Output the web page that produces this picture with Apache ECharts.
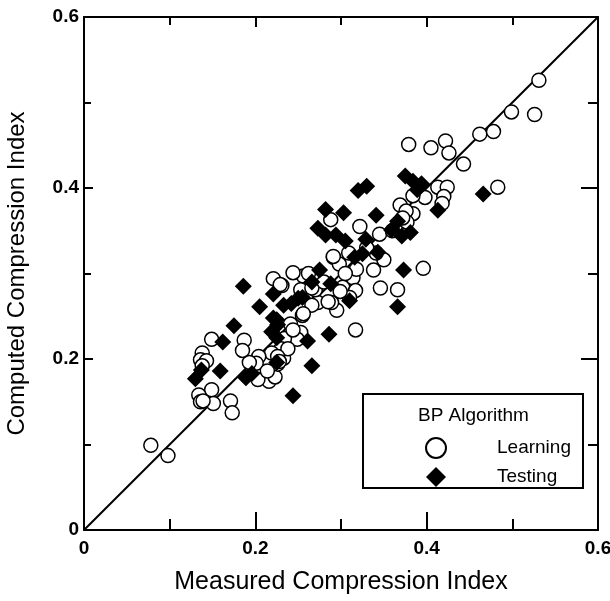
<!DOCTYPE html>
<html>
<head>
<meta charset="utf-8">
<script src="https://cdn.jsdelivr.net/npm/echarts@6/dist/echarts.min.js"></script>
<style>
  html, body { margin: 0; padding: 0; background: #fff; }
  #chart { width: 610px; height: 601px; }
</style>
</head>
<body>
<div id="chart"></div>
<script>
// Measured vs computed compression index, BP network results
const axisTicks = [0, 0.2, 0.4, 0.6];

const learningPoints = [
  [0.078,0.099],[0.098,0.087],[0.531,0.526],[0.499,0.489],[0.526,0.486],[0.462,0.463],
  [0.478,0.466],[0.379,0.451],[0.405,0.447],[0.422,0.455],[0.426,0.441],[0.443,0.428],
  [0.483,0.401],[0.413,0.401],[0.424,0.401],[0.420,0.390],[0.418,0.382],[0.398,0.389],
  [0.384,0.391],[0.384,0.370],[0.396,0.306],[0.366,0.281],[0.346,0.283],[0.338,0.304],
  [0.345,0.346],[0.322,0.355],[0.288,0.363],[0.350,0.316],[0.341,0.324],[0.317,0.234],
  [0.291,0.319],[0.298,0.311],[0.302,0.284],[0.295,0.257],[0.289,0.266],[0.314,0.295],
  [0.317,0.280],[0.310,0.272],[0.273,0.266],[0.270,0.281],[0.256,0.297],[0.244,0.301],
  [0.221,0.294],[0.231,0.286],[0.253,0.281],[0.255,0.251],[0.266,0.263],[0.253,0.231],
  [0.249,0.223],[0.241,0.241],[0.234,0.224],[0.230,0.212],[0.219,0.207],[0.233,0.201],
  [0.216,0.174],[0.203,0.176],[0.204,0.203],[0.201,0.195],[0.193,0.196],[0.187,0.222],
  [0.185,0.210],[0.171,0.151],[0.173,0.137],[0.149,0.164],[0.134,0.158],[0.136,0.150],
  [0.151,0.148],[0.139,0.151],[0.149,0.223],[0.138,0.207],[0.136,0.199],[0.143,0.198],
  [0.138,0.192],[0.223,0.179],[0.226,0.194],[0.238,0.212],[0.369,0.380],[0.376,0.373],
  [0.377,0.360],[0.291,0.320],[0.309,0.324],[0.229,0.287],[0.266,0.283],[0.299,0.279],
  [0.256,0.253],[0.244,0.234],[0.285,0.267],[0.262,0.300],[0.330,0.330],[0.318,0.305],
  [0.305,0.300],[0.360,0.350],[0.372,0.365],[0.280,0.290],[0.214,0.186],[0.226,0.203],
  [0.228,0.197]
];

const testingPoints = [
  [0.130,0.177],[0.137,0.187],[0.159,0.186],[0.162,0.220],[0.175,0.239],[0.186,0.285],
  [0.189,0.178],[0.196,0.183],[0.205,0.261],[0.221,0.276],[0.221,0.248],[0.225,0.196],
  [0.225,0.225],[0.244,0.157],[0.233,0.263],[0.242,0.265],[0.250,0.271],[0.255,0.272],
  [0.261,0.221],[0.266,0.192],[0.266,0.290],[0.275,0.304],[0.286,0.229],[0.288,0.288],
  [0.282,0.375],[0.273,0.353],[0.282,0.345],[0.294,0.345],[0.303,0.371],[0.305,0.338],
  [0.310,0.268],[0.316,0.319],[0.320,0.397],[0.330,0.402],[0.329,0.340],[0.341,0.368],
  [0.343,0.325],[0.359,0.351],[0.366,0.261],[0.373,0.304],[0.375,0.414],[0.384,0.408],
  [0.394,0.405],[0.389,0.398],[0.413,0.374],[0.466,0.393],[0.371,0.344],[0.381,0.348],
  [0.366,0.361],[0.325,0.323],[0.219,0.232],[0.225,0.246],[0.226,0.240]
];

const equalityLine = [[0, 0], [0.6, 0.6]];

const FONT = '"Liberation Sans", Arial, sans-serif';

function tickLabel(v) {
  return axisTicks.some(t => Math.abs(t - v) < 1e-9) ? (v === 0 ? '0' : String(+v.toFixed(1))) : '';
}

function frameAxis(extra, majorLen, minorLen) {
  return Object.assign({
    type: 'value', min: 0, max: 0.6, interval: 0.2,
    axisLine: { show: true, onZero: false, lineStyle: { color: '#000', width: 2 } },
    axisTick: { show: true, inside: true, length: majorLen, lineStyle: { color: '#000', width: 2 } },
    minorTick: { show: true, splitNumber: 2, length: minorLen, lineStyle: { color: '#000', width: 2 } },
    splitLine: { show: false },
    axisLabel: { show: false }
  }, extra);
}

const chart = echarts.init(document.getElementById('chart'), null, { renderer: 'canvas' });

chart.setOption({
  backgroundColor: '#fff',
  animation: false,
  grid: { left: 84, right: 12, top: 17, bottom: 71, containLabel: false, outerBoundsMode: 'none' },
  xAxis: [
    frameAxis({
      position: 'bottom',
      name: 'Measured Compression Index',
      nameLocation: 'middle', nameGap: 40,
      nameTextStyle: { fontFamily: FONT, fontSize: 25, color: '#000' },
      axisLabel: { show: true, margin: 9, fontFamily: FONT, fontWeight: 'bold', fontSize: 19, color: '#000', formatter: tickLabel }
    }, 18, 11),
    frameAxis({ position: 'top' }, 10, 8)
  ],
  yAxis: [
    frameAxis({
      position: 'left',
      name: 'Computed Compression Index',
      nameLocation: 'middle', nameGap: 55,
      nameTextStyle: { fontFamily: FONT, fontSize: 24, color: '#000' },
      axisLabel: { show: true, margin: 5, fontFamily: FONT, fontWeight: 'bold', fontSize: 19, color: '#000', formatter: tickLabel }
    }, 9, 7),
    frameAxis({ position: 'right' }, 17, 10)
  ],
  legend: {
    orient: 'vertical',
    left: 420, top: 432, z: 100,
    itemWidth: 20, itemHeight: 20, itemGap: 8,
    data: ['Learning', 'Testing'],
    textStyle: { fontFamily: FONT, fontSize: 19, color: '#000', padding: [0, 0, 0, 46] }
  },
  graphic: [
    { type: 'rect', shape: { x: 363, y: 394, width: 220, height: 94 }, z: 5,
      style: { fill: '#fff', stroke: '#000', lineWidth: 2 } },
    { type: 'text', x: 418, y: 406, z: 6,
      style: { text: 'BP Algorithm', fontFamily: FONT, fontSize: 19, fill: '#000' } }
  ],
  series: [
    {
      name: 'Line', type: 'line', data: equalityLine, showSymbol: false, silent: true,
      lineStyle: { color: '#000', width: 2 }, z: 1
    },
    {
      name: 'Learning', type: 'scatter', data: learningPoints,
      symbol: 'circle', symbolSize: 14,
      itemStyle: { color: '#fff', borderColor: '#000', borderWidth: 1.5, opacity: 1 }, z: 2
    },
    {
      name: 'Testing', type: 'scatter', data: testingPoints,
      symbol: 'diamond', symbolSize: [17, 17],
      itemStyle: { color: '#000', borderColor: '#000', borderWidth: 0, opacity: 1 }, z: 3
    }
  ]
});
</script>
</body>
</html>
